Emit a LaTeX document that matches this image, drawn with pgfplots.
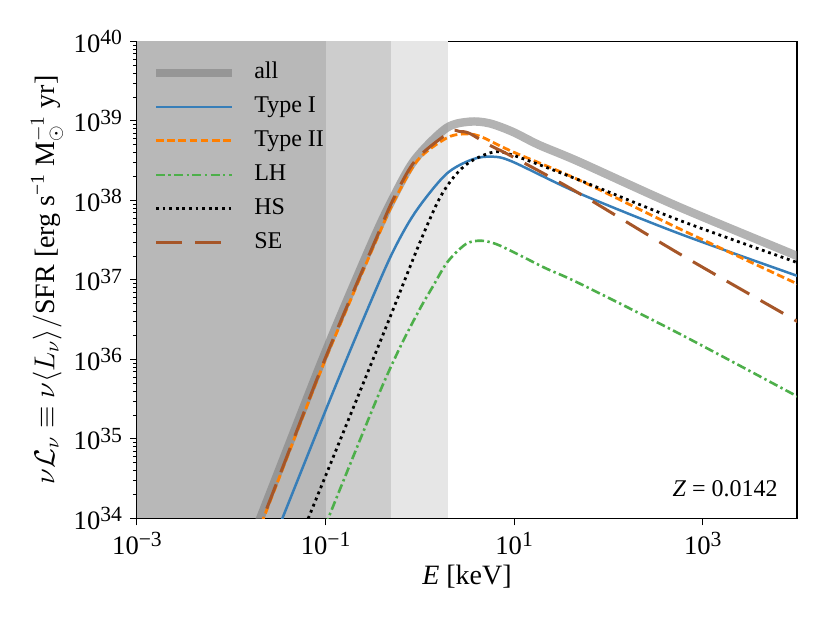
\documentclass[border=0pt]{standalone}
\usepackage{fontspec}
\setmainfont{Liberation Serif}
\usepackage{pgfplots}
\pgfplotsset{compat=1.18}
\definecolor{cblue}{RGB}{55,126,184}
\definecolor{corange}{RGB}{255,127,0}
\definecolor{cgreen}{RGB}{77,175,74}
\definecolor{cbrown}{RGB}{166,86,40}
\definecolor{shA}{RGB}{184,184,184}
\definecolor{shB}{RGB}{205,205,205}
\definecolor{shC}{RGB}{230,230,230}
\definecolor{cgray}{RGB}{128,128,128}
\newcommand{\tp}[1]{10\raisebox{3.7pt}{\fontsize{10.8}{11}\selectfont #1}}
\begin{document}
\begin{tikzpicture}
\path[use as bounding box] (-68.5pt,-52.25pt) rectangle (346.5pt,259.25pt);
\begin{axis}[
  scale only axis, width=330pt, height=238.5pt,
  xmode=log, ymode=log,
  xmin=1e-3, xmax=1e4, ymin=1e34, ymax=1e40,
  xtick={1e-3,1e-1,1e1,1e3}, xminorticks=false,
  xticklabels={\tp{−3},\tp{−1},\tp{1},\tp{3}},
  ytick={1e34,1e35,1e36,1e37,1e38,1e39,1e40},
  yticklabels={\tp{34},\tp{35},\tp{36},\tp{37},\tp{38},\tp{39},\tp{40}},
  tick align=outside, xtick pos=bottom, ytick pos=left,
  major tick length=3.5pt, minor tick length=2pt,
  every tick/.style={black, line width=0.5pt},
  axis line style={line width=0.75pt},
  tick label style={font=\fontsize{13.3}{15}\selectfont},
  yticklabel style={xshift=-0.5pt},
  label style={font=\fontsize{14}{16}\selectfont},
  xlabel={\textit{E} [keV]},
  ylabel={$\nu\mathcal{L}_\nu \equiv \nu\langle L_\nu\rangle/$SFR [erg s\textsuperscript{−1} M$_\odot^{-1}$ yr]},
  xlabel style={at={(axis description cs:0.5,0)}, anchor=center, yshift=-29pt},
  ylabel style={at={(axis description cs:-0.1364,0.5)}, anchor=center},
  legend style={at={(axis description cs:0,1)}, anchor=north west, xshift=4.25pt, yshift=-7.5pt,
    draw=none, fill=none, font=\fontsize{12}{14}\selectfont,
    nodes={inner sep=0pt, text height=9pt, text depth=3pt},
    row sep=5pt, column sep=9pt},
  legend cell align=left,
  legend image code/.code={\draw[#1] (0pt,0pt) -- (38pt,0pt);},
]
\addplot[draw=none, fill=shC, forget plot] coordinates {(1e-3,1e34) (2,1e34) (2,1e40) (1e-3,1e40)} -- cycle;
\addplot[draw=none, fill=shB, forget plot] coordinates {(1e-3,1e34) (0.5,1e34) (0.5,1e40) (1e-3,1e40)} -- cycle;
\addplot[draw=none, fill=shA, forget plot] coordinates {(1e-3,1e34) (0.1,1e34) (0.1,1e40) (1e-3,1e40)} -- cycle;

\addplot[cgray, draw opacity=0.6, line width=4.2pt, smooth] coordinates {
(0.015849,4.786e33) (0.02023,1e34) (0.07586,5.521e35) (0.1380,3.141e36) (0.3192,3.184e37) (0.5070,1.014e38) (0.8780,3.229e38) (1.8967,8.091e38) (3.3459,9.795e38) (5.445,9.354e38) (9.594,7.328e38) (18.37,4.989e38) (48.64,3.076e38) (553.3,8.356e37) (9462,2.061e37) (10000,1.995e37)};
\addlegendentry{all}

\addplot[cblue, line width=1.25pt, smooth] coordinates {
(0.026915,4.677e33) (0.034794,1e34) (0.11101,3.097e35) (0.24946,3.141e36) (0.50119,2.089e37) (0.89125,7.080e37) (1.8967,2.138e38) (3.6266,3.296e38) (5.8977,3.556e38) (9.594,3.076e38) (48.64,1.233e38) (553.3,3.864e37) (9462,1.156e37) (10000,1.135e37)};
\addlegendentry{Type I}

\addplot[corange, line width=1.4pt, dash pattern=on 3.8pt off 1.8pt, smooth] coordinates {
(0.016982,4.677e33) (0.021928,1e34) (0.08147,5.521e35) (0.14962,3.141e36) (0.34594,3.184e37) (0.5395,1.014e38) (0.9513,3.229e38) (1.8967,6.053e38) (2.8435,6.855e38) (4.2658,6.471e38) (9.594,4.111e38) (48.64,1.811e38) (553.3,4.467e37) (9462,9.247e36) (10000,9.016e36)};
\addlegendentry{Type II}

\addplot[cgreen, line width=1.3pt, dash pattern=on 4.5pt off 1.7pt on 1.2pt off 1.7pt, smooth] coordinates {
(0.083176,4.853e33) (0.10654,1e34) (0.34578,3.097e35) (0.60954,1.384e36) (0.99152,4.246e36) (1.3700,8.241e36) (1.9738,1.698e37) (3.0888,2.838e37) (4.4463,3.119e37) (6.4064,2.838e37) (10.423,2.168e37) (21.627,1.403e37) (48.64,9.120e36) (553.3,2.138e36) (9462,3.573e35) (10000,3.451e35)};
\addlegendentry{LH}

\addplot[black, line width=1.4pt, dash pattern=on 1.4pt off 1.9pt, smooth] coordinates {
(0.051286,4.898e33) (0.065464,1e34) (0.21281,3.097e35) (0.46989,3.141e36) (0.96761,2.692e37) (1.5856,1.014e38) (2.2909,1.972e38) (3.3459,3.020e38) (5.8977,4.036e38) (9.594,3.733e38) (48.64,1.811e38) (553.3,5.689e37) (9462,1.698e37) (10000,1.660e37)};
\addlegendentry{HS}

\addplot[cbrown, line width=1.5pt, dash pattern=on 13pt off 6.5pt, smooth] coordinates {
(0.016596,4.677e33) (0.021627,1e34) (0.080353,5.521e35) (0.14655,3.141e36) (0.33884,3.184e37) (0.52481,1.047e38) (0.9045,3.229e38) (2.0576,7.211e38) (2.6303,7.379e38) (3.3459,6.998e38) (5.445,4.989e38) (9.594,3.556e38) (48.64,1.233e38) (553.3,2.168e37) (9462,3.141e36) (10000,3.020e36)};
\addlegendentry{SE}

\node[anchor=south east, inner sep=0pt, font=\fontsize{12}{14}\selectfont] at (rel axis cs:1,0) [xshift=-9.5pt, yshift=10.5pt] {\textit{Z} = 0.0142};
\end{axis}
\end{tikzpicture}
\end{document}
